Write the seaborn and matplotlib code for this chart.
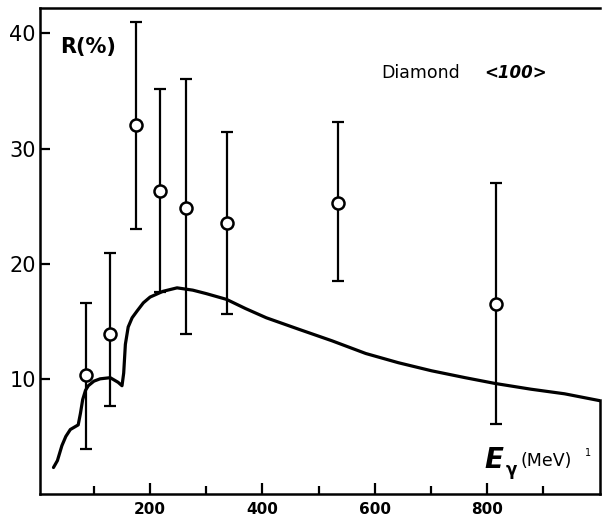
import matplotlib
matplotlib.use("Agg")
import matplotlib.pyplot as plt
import seaborn as sns
import pandas as pd

# measured points (E in MeV, R in %)
energy = [86, 129, 175, 218, 264, 337, 535, 816]
ratio = [10.3, 13.9, 32.0, 26.3, 24.8, 23.5, 25.3, 16.5]
err_hi = [16.6, 20.9, 41.0, 35.2, 36.0, 31.4, 32.3, 27.0]
err_lo = [3.9, 7.6, 23.0, 17.5, 13.9, 15.6, 18.5, 6.1]

# theory curve
curve_e = [28, 35, 43, 50, 58, 65, 72, 76, 80, 85, 90, 100, 111, 129, 143, 150,
           153, 156, 161, 168, 177, 188, 200, 223, 248, 276, 300, 336, 370, 407,
           465, 524, 584, 642, 701, 761, 814, 878, 938, 1001]
curve_r = [2.3, 2.9, 4.2, 5.0, 5.6, 5.8, 6.0, 7.0, 8.2, 9.0, 9.4, 9.8, 10.0, 10.1, 9.7, 9.4,
           10.5, 13.0, 14.5, 15.3, 15.9, 16.6, 17.1, 17.6, 17.9, 17.7, 17.4, 16.9, 16.1, 15.3,
           14.3, 13.3, 12.2, 11.4, 10.7, 10.1, 9.6, 9.1, 8.7, 8.1]

x_major = [200, 400, 600, 800]
x_minor = [100, 300, 500, 700, 900]
y_major = [10, 20, 30, 40]

sns.set_theme(style="white")
plt.rcParams["font.family"] = ["DejaVu Sans"]
plt.rcParams["text.color"] = "black"

pts = pd.DataFrame({"E": energy, "R": ratio})
theory = pd.DataFrame({"E": curve_e, "R": curve_r})

fig = plt.figure(figsize=(6.02, 5.23), dpi=100)
ax = fig.add_axes([40 / 602, 29 / 523, 560 / 602, 486 / 523])

sns.lineplot(data=theory, x="E", y="R", color="black", lw=2.3, ax=ax, zorder=2)

lo = [r - l for r, l in zip(ratio, err_lo)]
hi = [h - r for r, h in zip(ratio, err_hi)]
ax.errorbar(energy, ratio, yerr=[lo, hi], fmt="none", ecolor="black",
            elinewidth=1.6, capsize=4, capthick=1.6, zorder=3)
sns.scatterplot(data=pts, x="E", y="R", s=75, facecolor="white",
                edgecolor="black", linewidth=1.8, ax=ax, zorder=4)

ax.set_xlim(4, 1001)
ax.set_ylim(0, 42.2)
ax.set_xticks(x_major)
ax.set_xticks(x_minor, minor=True)
ax.set_yticks(y_major)
ax.set_xlabel("")
ax.set_ylabel("")
ax.tick_params(axis="both", which="both", direction="in", width=1.6,
               colors="black", labelcolor="black", bottom=True, left=True)
ax.tick_params(axis="x", which="major", length=8, labelsize=11, pad=6)
ax.tick_params(axis="x", which="minor", length=6)
ax.tick_params(axis="y", which="major", length=7, labelsize=15, pad=3)
for lbl in ax.get_xticklabels():
    lbl.set_fontweight("bold")

for s in ax.spines.values():
    s.set_color("black")
    s.set_linewidth(1.8)
ax.spines["right"].set_bounds(0, 8.2)

ax.text(0.036, 0.92, "R(%)", transform=ax.transAxes, fontsize=15,
        fontweight="bold", va="center", ha="left", color="black")
ax.text(0.61, 0.866, "Diamond", transform=ax.transAxes, fontsize=12.5,
        va="center", ha="left", color="black")
ax.text(0.793, 0.866, "<100>", transform=ax.transAxes, fontsize=12,
        fontweight="bold", fontstyle="italic", va="center", ha="left",
        color="black")
ax.text(0.793, 0.07, "E", transform=ax.transAxes, fontsize=20,
        fontweight="bold", fontstyle="italic", va="center", ha="left",
        color="black")
ax.text(0.832, 0.05, "γ", transform=ax.transAxes, fontsize=12,
        fontweight="bold", va="center", ha="left", color="black")
ax.text(0.858, 0.068, "(MeV)", transform=ax.transAxes, fontsize=12.5,
        va="center", ha="left", color="black")
ax.text(0.974, 0.084, "1", transform=ax.transAxes, fontsize=7,
        va="center", ha="left", color="black")

fig.savefig("out.png", dpi=100, facecolor="white")
